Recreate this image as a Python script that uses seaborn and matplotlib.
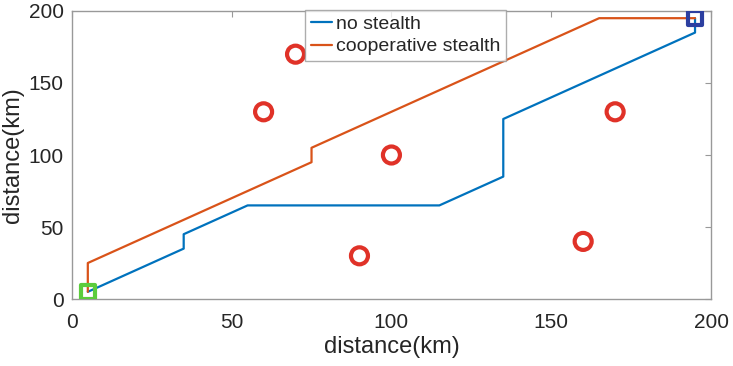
import numpy as np
import matplotlib.pyplot as plt
import pandas as pd
import seaborn as sns

# path without stealth
blue_x = [5, 35, 35, 55, 115, 135, 135, 195, 195]
blue_y = [5, 35, 45, 65, 65, 85, 125, 185, 195]

# path with cooperative stealth
orange_x = [5, 5, 75, 75, 165, 195]
orange_y = [5, 25, 95, 105, 195, 195]

# threats
threat_x = [70, 60, 100, 170, 90, 160]
threat_y = [170, 130, 100, 130, 30, 40]

start = (5, 5)
goal = (195, 195)

sns.set_style("white")
plt.rcParams['font.family'] = ['Liberation Sans', 'DejaVu Sans']

fig = plt.figure(figsize=(7.33, 3.66), dpi=100)
ax = fig.add_axes([0.098, 0.183, 0.872, 0.787])

df_blue = pd.DataFrame({"x": blue_x, "y": blue_y})
df_orange = pd.DataFrame({"x": orange_x, "y": orange_y})
sns.lineplot(data=df_blue, x="x", y="y", sort=False, estimator=None,
             color="#0072BD", linewidth=1.6, label="no stealth", ax=ax)
sns.lineplot(data=df_orange, x="x", y="y", sort=False, estimator=None,
             color="#D95319", linewidth=1.6, label="cooperative stealth", ax=ax)

sns.scatterplot(x=threat_x, y=threat_y, s=150, marker="o", facecolor="none",
                edgecolor="#E03228", linewidth=3, ax=ax, zorder=3)
ax.scatter([start[0]], [start[1]], s=110, marker="s", facecolor="none",
           edgecolor="#5BCC3C", linewidth=3, zorder=4)
ax.scatter([goal[0]], [goal[1]], s=110, marker="s", facecolor="none",
           edgecolor="#2C3FA0", linewidth=3, zorder=4)

ax.set_xlim(0, 200)
ax.set_ylim(0, 200)
ax.set_xticks([0, 50, 100, 150, 200])
ax.set_yticks([0, 50, 100, 150, 200])
ax.tick_params(direction="in", length=4, labelsize=15, color="#999999",
               top=True, right=True)
ax.tick_params(axis="x", pad=10)
ax.tick_params(axis="y", pad=6)
for s in ax.spines.values():
    s.set_color("#999999")
    s.set_linewidth(1)
ax.set_xlabel("distance(km)", fontsize=17, labelpad=3)
ax.set_ylabel("distance(km)", fontsize=17, labelpad=3)

leg = ax.legend(loc="upper center", bbox_to_anchor=(0.522, 1.005), fontsize=14,
                frameon=True, fancybox=False, edgecolor="#999999",
                handlelength=1.1, handletextpad=0.2, borderpad=0.3,
                labelspacing=0.25, borderaxespad=0)
leg.get_frame().set_linewidth(1)

fig.savefig("out.png", dpi=100)
